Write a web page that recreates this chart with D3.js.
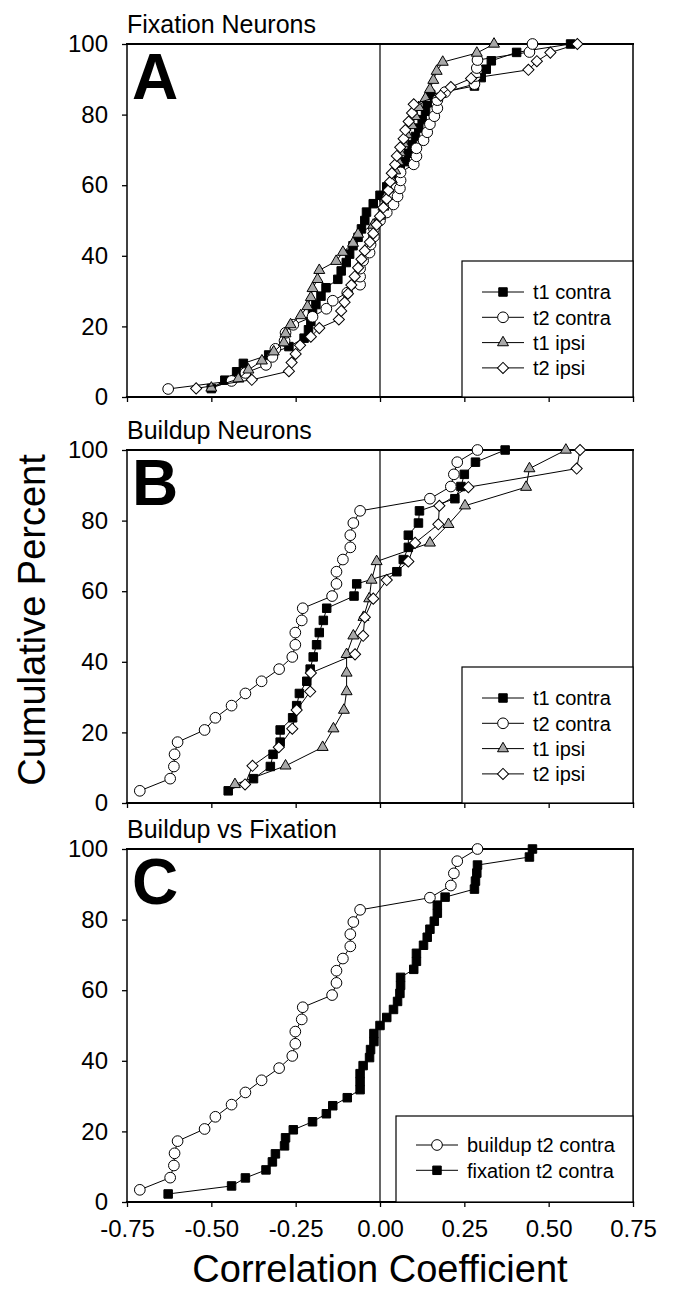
<!DOCTYPE html>
<html>
<head>
<meta charset="utf-8">
<script src="https://cdn.jsdelivr.net/npm/d3@7"></script>
<style>
   body { margin: 0; background: #fff; }
   svg { display: block; font-family: "Liberation Sans", Arial, sans-serif; }
</style>
</head>
<body>
<svg id="chart"></svg>
<script>
var width = 676;
var height = 1291;

var xTicks = [-0.75, -0.5, -0.25, 0, 0.25, 0.5, 0.75];
var xTickLabels = ['-0.75', '-0.50', '-0.25', '0.00', '0.25', '0.50', '0.75'];
var yTicks = [0, 20, 40, 60, 80, 100];

// sorted correlation coefficients, one per neuron
// cumulative percent of a point = its rank / n * 100
var fixT1Contra = [-0.50, -0.46, -0.425, -0.405, -0.33, -0.27, -0.225, -0.212, -0.205, -0.20,
   -0.19, -0.175, -0.16, -0.125, -0.115, -0.10, -0.09, -0.08, -0.065, -0.055,
   -0.045, -0.04, -0.02, 0.0, 0.02, 0.045, 0.06, 0.075, 0.085, 0.095,
   0.105, 0.115, 0.125, 0.135, 0.14, 0.15, 0.28, 0.30, 0.315, 0.33,
   0.405, 0.565];
var fixT2Contra = [-0.628, -0.44, -0.399, -0.338, -0.319, -0.31, -0.283, -0.28, -0.257, -0.20,
   -0.159, -0.14, -0.097, -0.059, -0.059, -0.059, -0.05, -0.031, -0.028, -0.018,
   -0.018, 0.0, 0.02, 0.04, 0.052, 0.059, 0.061, 0.061, 0.10, 0.108,
   0.108, 0.129, 0.14, 0.148, 0.161, 0.17, 0.17, 0.193, 0.28, 0.283,
   0.287, 0.289, 0.443, 0.452];
var fixT1Ipsi = [-0.50, -0.42, -0.39, -0.35, -0.315, -0.285, -0.28, -0.265, -0.235, -0.215,
   -0.205, -0.20, -0.185, -0.18, -0.13, -0.11, -0.08, -0.065, -0.02, 0.0,
   0.01, 0.015, 0.025, 0.035, 0.045, 0.055, 0.06, 0.07, 0.08, 0.095,
   0.105, 0.115, 0.135, 0.148, 0.158, 0.168, 0.186, 0.287, 0.338];
var fixT2Ipsi = [-0.545, -0.38, -0.27, -0.262, -0.25, -0.237, -0.205, -0.18, -0.122, -0.115,
   -0.105, -0.095, -0.085, -0.075, -0.065, -0.055, -0.045, -0.03, -0.02, -0.01,
   0.0, 0.01, 0.02, 0.025, 0.03, 0.035, 0.045, 0.05, 0.06, 0.07,
   0.075, 0.085, 0.095, 0.10, 0.18, 0.21, 0.27, 0.44, 0.465, 0.505,
   0.585];

var bldT1Contra = [-0.45, -0.375, -0.325, -0.317, -0.296, -0.296, -0.259, -0.247, -0.239, -0.217,
   -0.207, -0.198, -0.188, -0.18, -0.168, -0.158, -0.077, -0.069, 0.05, 0.069,
   0.084, 0.084, 0.114, 0.117, 0.222, 0.24, 0.25, 0.283, 0.371];
var bldT2Contra = [-0.712, -0.622, -0.611, -0.609, -0.60, -0.52, -0.488, -0.44, -0.399, -0.351,
   -0.299, -0.26, -0.251, -0.251, -0.232, -0.229, -0.142, -0.129, -0.129, -0.11,
   -0.088, -0.088, -0.079, -0.059, 0.148, 0.21, 0.219, 0.229, 0.289];
var bldT1Ipsi = [-0.43, -0.28, -0.17, -0.138, -0.107, -0.099, -0.099, -0.099, -0.079, -0.049,
   -0.032, -0.025, -0.01, 0.148, 0.203, 0.252, 0.433, 0.443, 0.551];
var bldT2Ipsi = [-0.40, -0.378, -0.30, -0.26, -0.247, -0.207, -0.205, -0.074, -0.05, -0.045,
   -0.02, 0.02, 0.084, 0.104, 0.173, 0.176, 0.262, 0.583, 0.593];

var panelTitles = ['Fixation Neurons', 'Buildup Neurons', 'Buildup vs Fixation'];
var panelLetters = ['A', 'B', 'C'];
var legendNames = ['t1 contra', 't2 contra', 't1 ipsi', 't2 ipsi'];
var legendNamesC = ['buildup t2 contra', 'fixation t2 contra'];

var plotLeft = 127;
var plotRight = 633;
var plotHeight = 353;
var panelTops = [44, 450, 849];

var markers = {
   square:   { type: d3.symbolSquare,   size: 72, fill: '#000', rotate: 0 },
   circle:   { type: d3.symbolCircle,   size: 90, fill: '#fff', rotate: 0 },
   triangle: { type: d3.symbolTriangle, size: 52, fill: '#a8a8a8', rotate: 0 },
   diamond:  { type: d3.symbolSquare,   size: 62, fill: '#fff', rotate: 45 }
};

var panels = [
   {
      series: [
         { name: legendNames[0], values: fixT1Contra, marker: 'square' },
         { name: legendNames[1], values: fixT2Contra, marker: 'circle' },
         { name: legendNames[2], values: fixT1Ipsi, marker: 'triangle' },
         { name: legendNames[3], values: fixT2Ipsi, marker: 'diamond' }
      ],
      legend: { left: 462, top: 217, firstRow: 248, lineX: 20, textX: 71 }
   },
   {
      series: [
         { name: legendNames[0], values: bldT1Contra, marker: 'square' },
         { name: legendNames[1], values: bldT2Contra, marker: 'circle' },
         { name: legendNames[2], values: bldT1Ipsi, marker: 'triangle' },
         { name: legendNames[3], values: bldT2Ipsi, marker: 'diamond' }
      ],
      legend: { left: 462, top: 217, firstRow: 248, lineX: 20, textX: 71 }
   },
   {
      series: [
         { name: legendNamesC[0], values: bldT2Contra, marker: 'circle' },
         { name: legendNamesC[1], values: fixT2Contra, marker: 'square' }
      ],
      legend: { left: 396, top: 267, firstRow: 296, lineX: 20, textX: 71 }
   }
];

var svg = d3.select('#chart')
   .attr('width', width)
   .attr('height', height)
;

var x = d3.scaleLinear()
   .domain([-0.75, 0.75])
   .range([plotLeft, plotRight])
;

function symbolPath(m) {
   return d3.symbol().type(markers[m].type).size(markers[m].size)();
}

function drawMarkers(sel, m) {
   sel.append('path')
      .attr('d', symbolPath(m))
      .attr('transform', function(d) { return 'translate(' + d[0] + ',' + d[1] + ') rotate(' + markers[m].rotate + ')'; })
      .attr('fill', markers[m].fill)
      .attr('stroke', '#000')
      .attr('stroke-width', 1)
   ;
}

panels.forEach(function(panel, pi) {

   var top = panelTops[pi];
   var bottom = top + plotHeight;

   var y = d3.scaleLinear()
      .domain([0, 100])
      .range([bottom, top])
   ;

   var g = svg.append('g');

   // title and panel letter
   g.append('text')
      .attr('x', plotLeft)
      .attr('y', top - 11)
      .style('font-size', '25px')
      .text(panelTitles[pi])
   ;

   g.append('text')
      .attr('x', plotLeft + 5)
      .attr('y', top + 55)
      .style('font-size', '64px')
      .style('font-weight', 'bold')
      .text(panelLetters[pi])
   ;

   // axes
   var yAxis = d3.axisLeft(y)
      .tickValues(yTicks)
      .tickSize(5)
      .tickPadding(14)
   ;

   var xAxis = d3.axisBottom(x)
      .tickValues(xTicks)
      .tickSize(5)
      .tickPadding(13)
      .tickFormat(function(d, i) { return pi == 2 ? xTickLabels[i] : ''; })
   ;

   g.append('g')
      .attr('transform', 'translate(' + plotLeft + ',0)')
      .call(yAxis)
      .call(function(a) { a.select('.domain').remove(); })
      .selectAll('text')
      .style('font-size', '24px')
      .style('font-family', '"Liberation Sans", Arial, sans-serif')
      .attr('fill', '#000')
   ;

   g.append('g')
      .attr('transform', 'translate(0,' + bottom + ')')
      .call(xAxis)
      .call(function(a) { a.select('.domain').remove(); })
      .selectAll('text')
      .style('font-size', '24px')
      .style('font-family', '"Liberation Sans", Arial, sans-serif')
      .attr('fill', '#000')
   ;

   g.selectAll('.tick line')
      .attr('stroke', '#000')
      .attr('stroke-width', 1.3)
   ;

   // frame and zero line
   g.append('line')
      .attr('x1', x(0)).attr('x2', x(0))
      .attr('y1', top).attr('y2', bottom)
      .attr('stroke', '#000')
      .attr('stroke-width', 1.2)
   ;

   var frame = [
      [plotLeft, top, plotRight, top, 2],
      [plotLeft, bottom, plotRight, bottom, 2.2],
      [plotLeft, top, plotLeft, bottom, 1.5],
      [plotRight, top, plotRight, bottom, 1.5]
   ];

   g.selectAll('line.frame')
      .data(frame)
      .enter()
      .append('line')
      .attr('class', 'frame')
      .attr('x1', function(d) { return d[0]; })
      .attr('y1', function(d) { return d[1]; })
      .attr('x2', function(d) { return d[2]; })
      .attr('y2', function(d) { return d[3]; })
      .attr('stroke', '#000')
      .attr('stroke-width', function(d) { return d[4]; })
      .attr('stroke-linecap', 'square')
   ;

   // legend
   var lg = panel.legend;
   var legend = g.append('g');

   legend.append('rect')
      .attr('x', lg.left)
      .attr('y', top + lg.top)
      .attr('width', plotRight - lg.left)
      .attr('height', bottom - top - lg.top)
      .attr('fill', '#fff')
      .attr('stroke', '#000')
      .attr('stroke-width', 1.2)
   ;

   panel.series.forEach(function(s, si) {
      var ry = top + lg.firstRow + si * 25.3;
      var x0 = lg.left + lg.lineX;

      legend.append('line')
         .attr('x1', x0).attr('x2', x0 + 42)
         .attr('y1', ry).attr('y2', ry)
         .attr('stroke', '#000')
         .attr('stroke-width', 1)
      ;

      legend.selectAll('path.m' + si)
         .data([[x0 + 21, ry]])
         .enter()
         .call(drawMarkers, s.marker)
      ;

      legend.append('text')
         .attr('x', lg.left + lg.textX)
         .attr('y', ry)
         .attr('dy', '0.36em')
         .style('font-size', '20px')
         .text(s.name)
      ;
   });

   // series
   var line = d3.line();

   panel.series.forEach(function(s) {
      var n = s.values.length;
      var pts = s.values.map(function(v, i) { return [x(v), y((i + 1) / n * 100)]; });

      var sg = g.append('g');

      sg.append('path')
         .attr('d', line(pts))
         .attr('fill', 'none')
         .attr('stroke', '#000')
         .attr('stroke-width', 1)
      ;

      sg.selectAll('path.pt')
         .data(pts)
         .enter()
         .call(drawMarkers, s.marker)
      ;
   });

});

// axis titles
svg.append('text')
   .attr('transform', 'translate(45,620) rotate(-90)')
   .attr('text-anchor', 'middle')
   .style('font-size', '38px')
   .text('Cumulative Percent')
;

svg.append('text')
   .attr('x', (plotLeft + plotRight) / 2)
   .attr('y', 1282)
   .attr('text-anchor', 'middle')
   .style('font-size', '38px')
   .text('Correlation Coefficient')
;
</script>
</body>
</html>
